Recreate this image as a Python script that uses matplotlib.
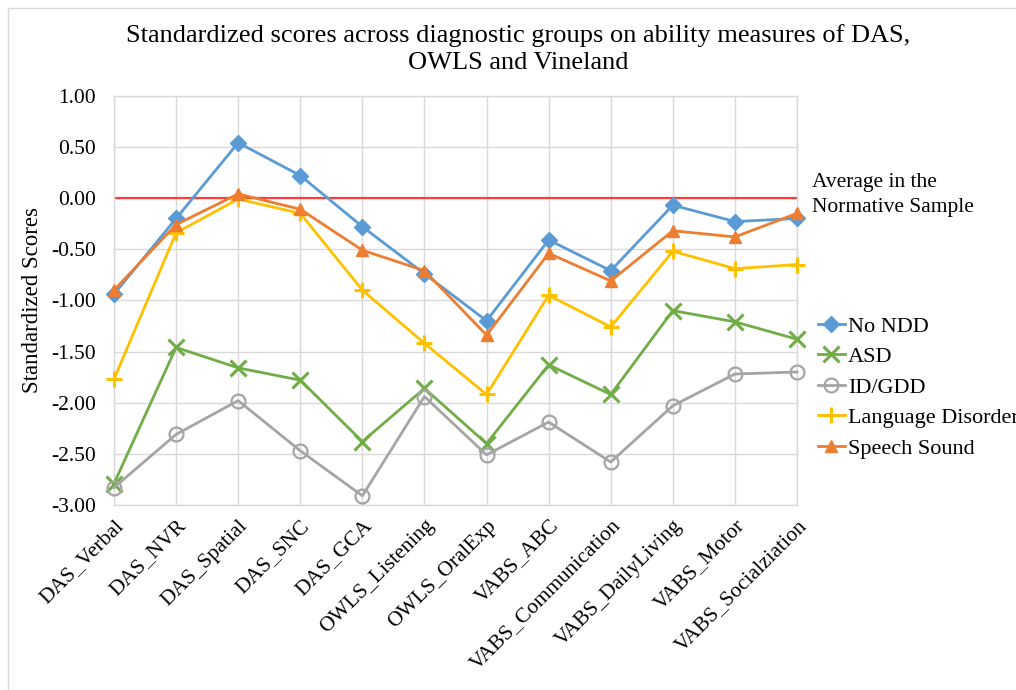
import matplotlib
matplotlib.use("Agg")
import matplotlib.pyplot as plt
from matplotlib.patches import Rectangle

plt.rcParams['font.family'] = ['Liberation Serif', 'DejaVu Serif']

categories = ["DAS_Verbal", "DAS_NVR", "DAS_Spatial", "DAS_SNC", "DAS_GCA",
              "OWLS_Listening", "OWLS_OralExp", "VABS_ABC", "VABS_Communication",
              "VABS_DailyLiving", "VABS_Motor", "VABS_Socialziation"]

no_ndd = [-0.94, -0.20, 0.54, 0.22, -0.28, -0.74, -1.20, -0.41, -0.71, -0.07, -0.23, -0.20]
asd = [-2.79, -1.46, -1.66, -1.78, -2.38, -1.86, -2.40, -1.63, -1.92, -1.10, -1.21, -1.38]
id_gdd = [-2.83, -2.31, -1.98, -2.47, -2.91, -1.94, -2.51, -2.19, -2.58, -2.03, -1.72, -1.70]
language = [-1.77, -0.34, -0.01, -0.15, -0.90, -1.42, -1.92, -0.95, -1.26, -0.52, -0.69, -0.65]
speech = [-0.90, -0.26, 0.04, -0.11, -0.51, -0.71, -1.34, -0.54, -0.81, -0.32, -0.38, -0.15]

series = [
    ("No NDD", no_ndd, "#5B9BD5", "D", {}),
    ("ASD", asd, "#70AD47", "x", {}),
    ("ID/GDD", id_gdd, "#A5A5A5", "o", {"markerfacecolor": "none"}),
    ("Language Disorder", language, "#FFC000", "+", {}),
    ("Speech Sound", speech, "#ED7D31", "^", {}),
]

yticks = [1.0, 0.5, 0.0, -0.5, -1.0, -1.5, -2.0, -2.5, -3.0]

fig = plt.figure(figsize=(10.16, 6.9), dpi=100)
W, H = 1016, 690

# chart border
fig.patches.append(Rectangle((8 / W, -0.1), 1.2, 1 - 8 / H + 0.1, transform=fig.transFigure,
                             fill=False, edgecolor="#D9D9D9", linewidth=1.0))

ax = fig.add_axes([114 / W, 1 - 505 / H, (797 - 114) / W, (505 - 95.7) / H])
x = list(range(len(categories)))

ax.axhline(0, color="#FF3B3B", linewidth=1.6, zorder=2)

for name, vals, color, marker, extra in series:
    ms = 11 if marker in ("x", "+") else (10 if marker == "o" else 8.5)
    mew = 2.2 if marker in ("x", "+") else (1.6 if marker == "o" else 1)
    ax.plot(x, vals, color=color, linewidth=2.0, marker=marker, markersize=ms,
            markeredgewidth=mew, label=name, zorder=3, clip_on=False, **extra)

ax.set_xlim(0, len(categories) - 1)
ax.set_ylim(-3.0, 1.0)
ax.set_yticks(yticks)
ax.set_yticklabels([f"{v:.2f}" for v in yticks], fontsize=15.5)
ax.set_xticks(x)
ax.set_xticklabels(categories, rotation=45, ha="right", rotation_mode="anchor", fontsize=15.5)
ax.tick_params(axis="both", length=0)
ax.tick_params(axis="y", pad=13)
ax.tick_params(axis="x", pad=8)
ax.grid(True, color="#D9D9D9", linewidth=1.0, zorder=0)
ax.set_axisbelow(True)
for s in ax.spines.values():
    s.set_color("#D9D9D9")
    s.set_linewidth(1.0)

ax.set_ylabel("Standardized Scores", fontsize=16.5)
ax.yaxis.set_label_coords(-0.104, 0.5)

fig.text(518 / W, 1 - 49 / H,
         "Standardized scores across diagnostic groups on ability measures of DAS,\nOWLS and Vineland",
         ha="center", va="center", fontsize=19, multialignment="center", linespacing=1.33)

fig.text(812 / W, 1 - 195 / H, "Average in the\nNormative Sample", ha="left", va="center",
         fontsize=15.5, linespacing=1.42)

leg = fig.legend(loc="upper left", bbox_to_anchor=(818 / W, 1 - 316 / H),
                 frameon=False, fontsize=16, handlelength=1.2, handletextpad=0.15,
                 labelspacing=0.45, borderaxespad=0, borderpad=0)

fig.savefig("out.png", dpi=100)
